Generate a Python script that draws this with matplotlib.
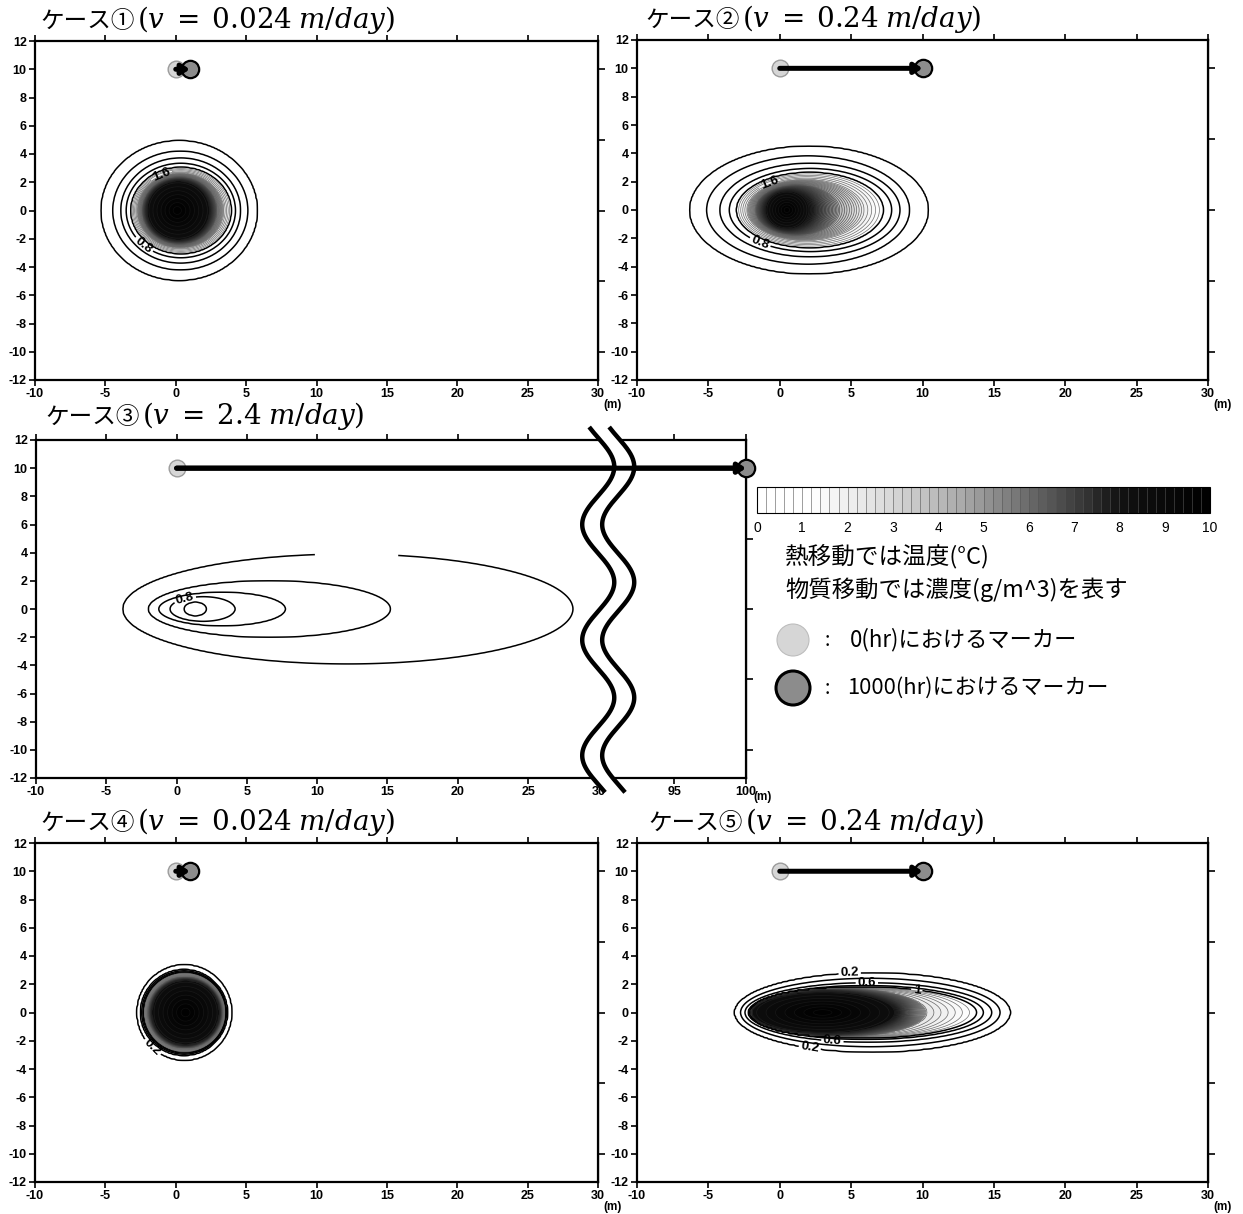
import numpy as np
import matplotlib
matplotlib.use('Agg')
import matplotlib.pyplot as plt
from matplotlib.colors import LinearSegmentedColormap, Normalize
from matplotlib.offsetbox import TextArea, HPacker, AnnotationBbox
from matplotlib.patches import Circle

plt.rcParams['axes.unicode_minus'] = False
plt.rcParams['mathtext.fontset'] = 'dejavuserif'
plt.rcParams['font.family'] = ['Noto Sans CJK JP', 'DejaVu Sans']
CJK = ['Noto Sans CJK JP', 'DejaVu Sans']
TICK_FONT = ['Liberation Sans Narrow', 'Liberation Sans', 'DejaVu Sans']

# ------------------------------------------------------------------ data
case_names = ['ケース①', 'ケース②', 'ケース③', 'ケース④', 'ケース⑤']
case_speeds = ['0.024', '0.24', '2.4', '0.024', '0.24']
marker_start_x = [0, 0, 0, 0, 0]
marker_end_x = [1, 10, 100, 1, 10]          # position of the marker after 1000 hr (m)
marker_y = 10

x_ticks = [-10, -5, 0, 5, 10, 15, 20, 25, 30]
y_ticks = [-12, -10, -8, -6, -4, -2, 0, 2, 4, 6, 8, 10, 12]
y_ticks_right = [-10, -5, 0, 5, 10]
case3_x_values = [-10, -5, 0, 5, 10, 15, 20, 25, 30, 95, 100]   # real distances on the broken axis
colorbar_ticks = [0, 1, 2, 3, 4, 5, 6, 7, 8, 9, 10]

# contour rings (outer -> inner):
# level, left end x, right end x, half height ; peak = (level, x)
c1_levels = [0.2, 0.4, 0.6, 0.8, 1.0, 2.0, 4.0, 8.5]
c1_left = [-5.3, -4.47, -3.9, -3.52, -3.18, -2.75, -2.35, -2.05]
c1_right = [5.79, 5.12, 4.6, 4.24, 3.94, 3.4, 2.9, 2.4]
c1_half = [4.94, 4.2, 3.72, 3.34, 3.05, 2.65, 2.35, 2.1]
c1_peak = (10.0, 0.1)

c2_levels = [0.2, 0.4, 0.6, 0.8, 1.0, 2.0, 4.0, 8.5]
c2_left = [-6.3, -5.12, -4.19, -3.53, -3.02, -2.3, -1.7, -1.0]
c2_right = [10.4, 9.08, 8.42, 7.84, 7.25, 5.9, 4.2, 2.0]
c2_half = [4.5, 3.82, 3.3, 2.93, 2.65, 2.15, 1.75, 1.35]
c2_peak = (10.0, 0.5)

c3_levels = [0.2, 0.4, 0.6, 0.8, 1.0]
c3_left = [-3.8, -2.0, -1.27, -0.47, 0.53]
c3_right = [28.2, 15.2, 7.73, 4.15, 2.12]
c3_half = [3.9, 2.0, 1.18, 0.88, 0.5]
c3_peak = (1.1, 1.2)

c4_levels = [0.2, 0.4, 1.0, 3.0, 8.5]
c4_left = [-2.74, -2.5, -2.25, -1.95, -1.7]
c4_right = [3.97, 3.66, 3.5, 3.3, 3.1]
c4_half = [3.37, 3.03, 2.8, 2.5, 2.3]
c4_peak = (10.0, 0.7)

c5_levels = [0.2, 0.4, 0.6, 0.8, 1.0, 2.4, 6.0, 8.5]
c5_left = [-3.14, -2.74, -2.43, -2.2, -2.1, -2.05, -2.0, -1.95]
c5_right = [16.13, 15.43, 14.85, 14.26, 13.79, 10.3, 9.0, 8.0]
c5_half = [2.8, 2.42, 2.1, 1.9, 1.8, 1.7, 1.6, 1.5]
c5_peak = (10.0, 3.0)

# contour labels: (level, near x, near y)
c1_labels = [(0.8, -2.4, -2.6), (1.6, -0.9, 2.2)]
c2_labels = [(0.8, -1.5, -2.6), (1.6, -0.6, 1.6)]
c3_labels = [(0.8, 0.6, 0.7)]
c4_labels = [(0.2, -1.7, -2.5)]
c5_labels = [(0.2, 4.9, 2.8), (0.6, 6.1, 2.1), (1.0, 9.6, 1.6), (0.2, 2.1, -2.5), (0.6, 3.7, -1.9)]
c3_gap = (0.2, 12.8, 3.9)      # hidden label leaving a gap in the outer ring of case 3

legend_line1 = '熱移動では温度(°C)'
legend_line2 = '物質移動では濃度(g/m^3)を表す'
legend_start = '0(hr)におけるマーカー'
legend_end = '1000(hr)におけるマーカー'

# ------------------------------------------------------------------ styling
W, H = 1243, 1214
fig = plt.figure(figsize=(W / 100, H / 100), dpi=100)


def px_axes(l, t, r, b):
    return fig.add_axes([l / W, 1 - b / H, (r - l) / W, (b - t) / H])


# broken x axis of case 3: up to 30 m linear, 95..100 m squeezed behind the break
C3_XMAX = 40.5
C3_95_POS = 35.4


def case3_pos(x):
    return x if x <= 32 else C3_95_POS + (x - 95) * (C3_XMAX - C3_95_POS) / 5


cmap = LinearSegmentedColormap.from_list(
    'plume', [(0, '#ffffff'), (0.12, '#ffffff'), (0.25, '#e4e4e4'), (0.45, '#ababab'),
              (0.65, '#555555'), (0.8, '#121212'), (1, '#000000')])
norm = Normalize(0, 10)
fill_levels = np.round(np.arange(0, 10.01, 0.2), 1)
line_levels = fill_levels[1:]


def line_color(lv):
    return 'k' if lv <= 1.0 else str(round(0.05 + 0.4 * (10 - lv) / 9, 3))


def line_width(lv):
    return 1.1 if lv <= 1.0 else 0.5


def ring_field(X, Y, levels, left, right, half, peak):
    left = np.asarray(left, float)
    right = np.asarray(right, float)
    half = np.asarray(half, float)
    lv = np.r_[0.0, levels, peak[0]]
    cx = np.r_[(left[0] + right[0]) / 2, (left + right) / 2, peak[1]]
    a = np.r_[(right[0] - left[0]) / 2 * 1.5, (right - left) / 2, 0.0]
    b = np.r_[half[0] * 1.5, half, 0.0]
    idx = np.arange(len(lv))
    n = len(lv) - 1
    s_vals = np.linspace(0, n - 0.02, 900)
    ds = s_vals[1] - s_vals[0]
    s_star = np.full(X.shape, np.nan)
    d_prev = None
    for s in s_vals:
        c = np.interp(s, idx, cx)
        aa = np.interp(s, idx, a)
        bb = np.interp(s, idx, b)
        d = ((X - c) / aa) ** 2 + (Y / bb) ** 2
        if d_prev is not None:
            cross = (d_prev <= 1) & (d > 1)
            frac = (1 - d_prev[cross]) / (d[cross] - d_prev[cross])
            s_star[cross] = s - ds + frac * ds
        d_prev = d
    s_star[d_prev <= 1] = s_vals[-1]
    s_star[np.isnan(s_star)] = 0.0
    return np.interp(s_star, idx, lv)


def style_axes(ax, xticks, xlabels, xmax, m_offset):
    ax.set_xlim(-10, xmax)
    ax.set_ylim(-12, 12)
    ax.set_xticks(xticks)
    ax.set_xticklabels(xlabels, fontfamily=TICK_FONT, fontweight='bold', fontsize=9)
    ax.set_yticks(y_ticks)
    ax.set_yticklabels([str(v) for v in y_ticks], fontfamily=TICK_FONT, fontweight='bold', fontsize=9)
    ax.tick_params(direction='out', length=4, width=1.2, top=True, right=False, pad=2)
    for sp in ax.spines.values():
        sp.set_linewidth(1.6)
    sec = ax.secondary_yaxis('right')
    sec.set_yticks(y_ticks_right)
    sec.set_yticklabels([])
    sec.tick_params(direction='out', length=5, width=1.2)
    sec.spines['right'].set_linewidth(1.6)
    ax.annotate('(m)', xy=(1, 0), xycoords='axes fraction', xytext=m_offset,
                textcoords='offset pixels', ha='center', va='center', fontsize=8.5,
                fontweight='bold', fontfamily=TICK_FONT, annotation_clip=False)


def draw_case(ax, rings, labels, xmax, hidden=None):
    xs = np.linspace(-10, xmax, int((xmax + 10) * 10) + 1)
    ys = np.linspace(-12, 12, 241)
    X, Y = np.meshgrid(xs, ys)
    Z = ring_field(X, Y, *rings)
    cf = ax.contourf(X, Y, Z, levels=fill_levels, cmap=cmap, norm=norm, zorder=1)
    labelled = sorted(set([lab[0] for lab in labels] + ([hidden[0]] if hidden else [])))
    plain = [lv for lv in line_levels if not any(abs(lv - q) < 1e-6 for q in labelled)]
    ax.contour(X, Y, Z, levels=plain, colors=[line_color(v) for v in plain],
               linewidths=[line_width(v) for v in plain], zorder=2)
    for q in labelled:
        csq = ax.contour(X, Y, Z, levels=[q], colors=[line_color(q)],
                         linewidths=[line_width(q)], zorder=2)
        pts = [(lx, ly) for lev, lx, ly in labels if abs(lev - q) < 1e-6]
        if pts:
            csq.clabel(manual=pts, fmt=lambda v: f'{v:g}', fontsize=9.5, inline=True,
                       inline_spacing=2, colors='k')
        if hidden and abs(hidden[0] - q) < 1e-6:
            csq.clabel(manual=[(hidden[1], hidden[2])], fmt=lambda v: '0.2', fontsize=12,
                       inline=True, inline_spacing=30, colors='white')
        for t in csq.labelTexts:
            t.set_fontweight('bold')
            t.set_fontfamily(TICK_FONT)
    return cf


def draw_marker(ax, x0, x1, y):
    ax.plot([x0], [y], 'o', ms=12, mfc='#d6d6d6', mec='#9c9c9c', mew=1.0,
            ls='none', zorder=5, clip_on=False)
    ax.plot([x1], [y], 'o', ms=12.5, mfc='#8c8c8c', mec='k', mew=1.6,
            ls='none', zorder=6, clip_on=False)
    ax.annotate('', xy=(x1, y), xytext=(x0, y),
                arrowprops=dict(arrowstyle='-|>,head_length=0.45,head_width=0.3',
                                color='k', lw=3.6, shrinkA=0, shrinkB=0),
                zorder=7, annotation_clip=False)


panel_boxes = [(35, 41, 598, 380), (637, 40, 1208, 380), (36, 440, 746, 778),
               (35, 843, 598, 1182), (637, 843, 1208, 1182)]
rings_all = [(c1_levels, c1_left, c1_right, c1_half, c1_peak),
             (c2_levels, c2_left, c2_right, c2_half, c2_peak),
             (c3_levels, c3_left, c3_right, c3_half, c3_peak),
             (c4_levels, c4_left, c4_right, c4_half, c4_peak),
             (c5_levels, c5_left, c5_right, c5_half, c5_peak)]
labels_all = [c1_labels, c2_labels, c3_labels, c4_labels, c5_labels]

axes = []
first_cf = None
for k in range(5):
    ax = px_axes(*panel_boxes[k])
    axes.append(ax)
    if k == 2:
        xmax = C3_XMAX
        style_axes(ax, [case3_pos(v) for v in case3_x_values],
                   [str(v) for v in case3_x_values], xmax, (17, -19))
        end_x = case3_pos(marker_end_x[k])
        cf = draw_case(ax, rings_all[k], labels_all[k], xmax, hidden=c3_gap)
    else:
        xmax = 30
        style_axes(ax, x_ticks, [str(v) for v in x_ticks], xmax, (15, -25))
        end_x = marker_end_x[k]
        cf = draw_case(ax, rings_all[k], labels_all[k], xmax)
    if k == 0:
        first_cf = cf
    draw_marker(ax, marker_start_x[k], end_x, marker_y)

# axis break symbol on case 3
ax3 = axes[2]
yy = np.linspace(12.8, -12.9, 400)
xc = 30.7 + 1.14 * np.cos(2 * np.pi * (yy - 10.1) / 8.2)
ax3.plot(xc, yy, color='white', lw=11, solid_capstyle='butt', zorder=8, clip_on=False)
ax3.plot(xc - 0.71, yy, color='k', lw=3.2, zorder=9, clip_on=False)
ax3.plot(xc + 0.71, yy, color='k', lw=3.2, zorder=9, clip_on=False)
ax3.annotate('', xy=(case3_pos(marker_end_x[2]), marker_y), xytext=(0, marker_y),
             arrowprops=dict(arrowstyle='-', color='k', lw=3.6, shrinkA=0, shrinkB=6),
             zorder=10, annotation_clip=False)

# colorbar
cax = px_axes(757, 487, 1210, 513)
cb = fig.colorbar(first_cf, cax=cax, orientation='horizontal', ticks=colorbar_ticks,
                  drawedges=True)
cb.dividers.set_linewidth(0.4)
cb.dividers.set_color('#555555')
cb.outline.set_linewidth(0.8)
cax.tick_params(length=0, labelsize=10, pad=6)
for t in cax.get_xticklabels():
    t.set_fontfamily(['Liberation Sans', 'DejaVu Sans'])

# overlay in pixel coordinates for titles and legend
ov = fig.add_axes([0, 0, 1, 1])
ov.set_xlim(0, W)
ov.set_ylim(H, 0)
ov.axis('off')

title_pos = [(40, 20), (645, 19), (45, 416), (40, 822), (648, 822)]
for k in range(5):
    ta1 = TextArea(case_names[k], textprops=dict(fontfamily=CJK, fontsize=17))
    ta2 = TextArea(r'$(v\;=\;%s\;m/day)$' % case_speeds[k], textprops=dict(fontsize=20))
    box = HPacker(children=[ta1, ta2], pad=0, sep=2, align='baseline')
    ab = AnnotationBbox(box, title_pos[k], xycoords='data', box_alignment=(0, 0.5),
                        frameon=False, pad=0)
    ov.add_artist(ab)

ov.text(785, 556, legend_line1, fontsize=17, fontfamily=CJK, ha='left', va='center')
ov.text(785, 590, legend_line2, fontsize=16.8, fontfamily=CJK, ha='left', va='center')
ov.add_patch(Circle((793, 640), 16, facecolor='#d6d6d6', edgecolor='#bdbdbd', lw=0.8))
ov.add_patch(Circle((793, 688), 17, facecolor='#8c8c8c', edgecolor='k', lw=2.2))
ov.text(827, 640, ':', fontsize=14, fontfamily=CJK, ha='center', va='center')
ov.text(827, 688, ':', fontsize=14, fontfamily=CJK, ha='center', va='center')
ov.text(850, 640, legend_start, fontsize=16, fontfamily=CJK, ha='left', va='center')
ov.text(847, 688, legend_end, fontsize=15.8, fontfamily=CJK, ha='left', va='center')

fig.savefig('out.png', dpi=100)
